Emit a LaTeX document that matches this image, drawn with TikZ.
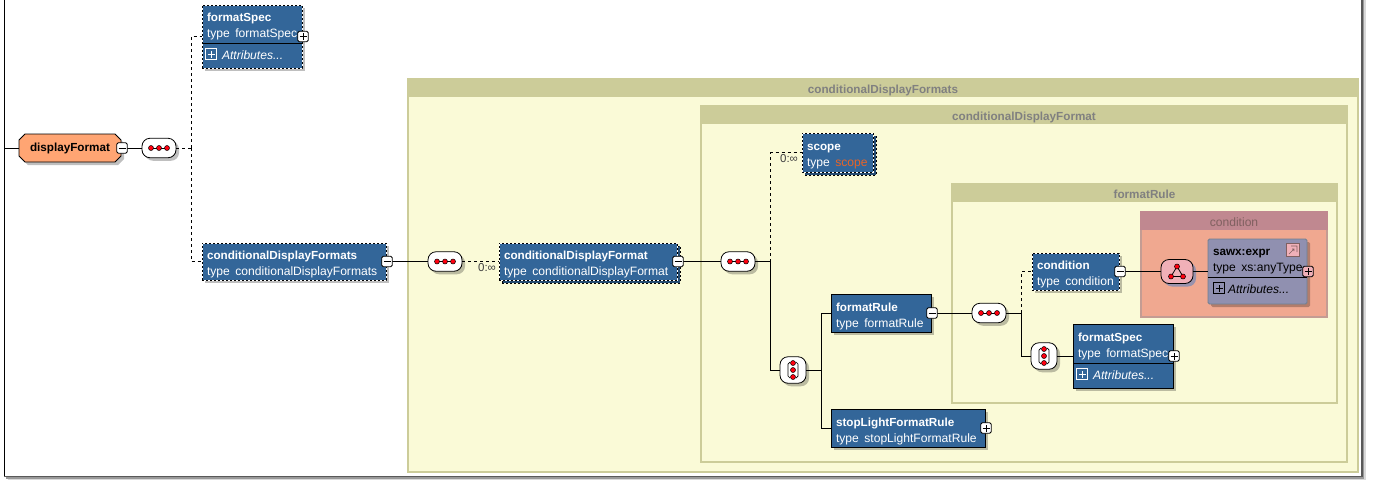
\documentclass[tikz,border=0pt]{standalone}
\usepackage{fontspec}
\setmainfont{Liberation Sans}
\usetikzlibrary{calc,shadows,shapes.misc}
\definecolor{typeblue}{HTML}{336699}
\definecolor{groupline}{HTML}{CCCC99}
\definecolor{groupfill}{HTML}{FAFAD7}
\definecolor{grouptext}{HTML}{808080}
\definecolor{elemorange}{HTML}{FFA573}
\definecolor{condfill}{HTML}{F0A890}
\definecolor{condhead}{HTML}{C08890}
\definecolor{condtext}{HTML}{806060}
\definecolor{anyfill}{HTML}{9090B0}
\definecolor{anyline}{HTML}{708090}
\definecolor{allpink}{HTML}{F0B0B8}
\definecolor{scopetext}{HTML}{E86428}
\definecolor{dotred}{HTML}{FF0010}
\newcommand{\elemname}[1]{{\fontsize{11.7}{16}\selectfont\bfseries #1}}
\newcommand{\elemtall}[1]{\rule{0pt}{15pt}\elemname{#1}}
\newcommand{\typeline}[1]{\mbox{type\hspace{5.5pt}#1}}

\begin{document}
\begin{tikzpicture}[
  x=1pt, y=-1pt,
  font=\fontsize{12.1}{16}\selectfont,
  shade/.style     = {drop shadow={shadow xshift=3pt, shadow yshift=-3pt, fill=black, opacity=0.25}},
  typebox/.style   = {draw=black, line width=0.8pt, fill=typeblue, text=white, outer sep=0pt,
                      inner xsep=5pt, inner ysep=0pt, align=left, shade},
  optbox/.style    = {typebox, draw=white, postaction={draw=black, dash pattern=on 2pt off 2pt}},
  manybox/.style   = {copy shadow={shadow xshift=3pt, shadow yshift=-3pt, fill=typeblue,
                      draw=black, dash pattern=on 2pt off 2pt, opacity=1}, optbox},
  elem/.style      = {chamfered rectangle, chamfered rectangle xsep=3pt, chamfered rectangle ysep=3pt,
                      draw=black, line width=0.8pt, fill=elemorange, minimum width=102pt,
                      minimum height=28pt, inner sep=0pt, outer sep=0pt, shade},
  anybox/.style    = {typebox, draw=anyline, fill=anyfill, text=black, rounded corners=1.5pt},
  grp/.style       = {draw=groupline, line width=2pt, fill=groupfill, outer sep=0pt, inner sep=0pt},
  grphead/.style   = {draw=groupline, line width=2pt, fill=groupline, text=grouptext, outer sep=0pt,
                      inner sep=0pt, minimum height=17pt, text height=12pt, text depth=0pt,
                      font=\fontsize{11.7}{14}\selectfont\bfseries},
  condgrp/.style   = {grp, draw=condhead!70!groupline, fill=condfill},
  condgrphead/.style = {grphead, draw=condhead, fill=condhead, text=condtext,
                      font=\fontsize{12.1}{14}\selectfont},
  icobox/.style    = {draw=black, line width=0.8pt, fill=white, rounded corners=1.5pt, minimum size=10.5pt,
                      inner sep=0pt, outer sep=0pt},
  minusbox/.style  = {icobox, xshift=1pt, path picture={\draw[sharp corners, line width=0.8pt]
                      ([xshift=-3.5pt]path picture bounding box.center) -- ([xshift=3.5pt]path picture bounding box.center);}},
  plusbox/.style   = {icobox, xshift=1pt, path picture={\draw[sharp corners, line width=0.8pt]
                      ([xshift=-3.5pt]path picture bounding box.center) -- ([xshift=3.5pt]path picture bounding box.center)
                      ([yshift=-3.5pt]path picture bounding box.center) -- ([yshift=3.5pt]path picture bounding box.center);}},
  attrplus/.style  = {icobox, draw=white, fill=typeblue, rounded corners=0pt,
                      path picture={\draw[white, sharp corners, line width=0.8pt]
                      ([yshift=-3.5pt]path picture bounding box.center) -- ([yshift=3.5pt]path picture bounding box.center)
                      ([xshift=-3.5pt]path picture bounding box.center) -- ([xshift=3.5pt]path picture bounding box.center);}},
  seqnode/.style   = {draw=black, line width=0.8pt, fill=white, rounded corners=8pt, minimum width=34pt,
                      minimum height=19.5pt, inner sep=0pt, outer sep=0pt, shade,
                      path picture={\begin{scope}[shift={(path picture bounding box.center)}, sharp corners]
                        \draw[line width=0.8pt] (-8,0) -- (8,0);
                        \foreach \dotx in {-8,0,8} \filldraw[fill=dotred, draw=black, line width=0.5pt] (\dotx,0) circle (2.5pt);
                      \end{scope}}},
  choicenode/.style = {draw=black, line width=0.8pt, fill=white, rounded corners=8pt, minimum width=26pt,
                      minimum height=26.5pt, inner sep=0pt, outer sep=0pt, shade,
                      path picture={\begin{scope}[shift={(path picture bounding box.center)}, sharp corners]
                        \draw[line width=0.7pt] (-3,-8) -- (-5,-6) -- (-5,6) -- (-3,8) (3,-8) -- (5,-6) -- (5,6) -- (3,8);
                        \foreach \doty in {-7,0,7} \filldraw[fill=dotred, draw=black, line width=0.5pt] (0,\doty) circle (2.5pt);
                      \end{scope}}},
  allnode/.style   = {draw=black, line width=0.8pt, fill=allpink, rounded corners=8pt, minimum width=32pt,
                      minimum height=24pt, inner sep=0pt, outer sep=0pt,
                      drop shadow={shadow xshift=3pt, shadow yshift=-3pt, fill=anyfill, opacity=0.9},
                      path picture={\begin{scope}[shift={(path picture bounding box.center)}, sharp corners]
                        \draw[line width=0.8pt] (0,-5) -- (-6,5) -- (6,5) -- cycle;
                        \foreach \dotx/\doty in {0/-5,-6/5,6/5} \filldraw[fill=dotred, draw=black, line width=0.5pt] (\dotx,\doty) circle (2.5pt);
                      \end{scope}}},
  refbox/.style    = {draw=condtext, line width=0.8pt, fill=allpink, minimum size=13pt, inner sep=0pt, outer sep=0pt,
                      path picture={\begin{scope}[shift={(path picture bounding box.center)}, sharp corners]
                        \draw[line width=0.6pt] (-2,-4) -- (4,-4) -- (4,2) (-4,4) -- (1,-1) (-1,-1) -- (1,-1) -- (1,1);
                      \end{scope}}},
  ln/.style        = {draw=black, line width=0.8pt},
  lndash/.style    = {ln, dash pattern=on 3pt off 3pt},
  occurs/.style    = {font=\fontsize{11.5}{12}\selectfont, text=black!75, inner sep=0pt},
]
\useasboundingbox (0,0) rectangle (1373,488);

% --- page edge -----------------------------------------------------------------------------------
\fill[white] (0,0) rectangle (1373,488);
\fill[black!15] (1361,0) rectangle (1366,480);
\fill[black!15] (8,476) rectangle (1366,480);
\fill[black!40] (1361,0) rectangle (1364,478.5);
\fill[black!40] (6,476) rectangle (1364,478.5);
\fill[black!65] (1361,0) rectangle (1362.5,477.2);
\fill[black!65] (4,476) rectangle (1362.5,477.2);
\coordinate (edgetop) at (4.5,0);
\coordinate (edgebot) at (4.5,476);
\draw[ln] (edgetop) -- (edgebot);

% --- nested groups -------------------------------------------------------------------------------
\node[grp, anchor=north west, minimum width=950pt, minimum height=393pt] (dfsgroup) at (408,79) {};
\node[grphead, anchor=north west, minimum width=950pt] at (dfsgroup.north west) {conditionalDisplayFormats};
\node[grp, anchor=north west, minimum width=646pt, minimum height=356pt] (dfgroup) at (701,106) {};
\node[grphead, anchor=north west, minimum width=646pt] at (dfgroup.north west) {conditionalDisplayFormat};
\node[grp, anchor=north west, minimum width=385pt, minimum height=219pt] (rulegroup) at (952,184) {};
\node[grphead, anchor=north west, minimum width=385pt] at (rulegroup.north west) {formatRule};
\node[condgrp, anchor=north west, minimum width=186pt, minimum height=105pt] (condgroup) at (1141,212) {};
\node[condgrphead, anchor=north west, minimum width=186pt] at (condgroup.north west) {condition};

% --- root and its sequence -----------------------------------------------------------------------
\node[elem] (display) at (70,148) {\elemname{displayFormat}};
\node[seqnode] (seqa) at (159,148) {};
\node[optbox, anchor=north west, minimum width=100pt, minimum height=63pt, text width=90pt] (specone) at (202,5)
  {\elemname{formatSpec}\\\typeline{formatSpec}\\[6pt]\hspace*{15pt}\textit{Attributes...}};
\draw[ln] ($(specone.west)+(0,6.5)$) -- ($(specone.east)+(0,6.5)$);
\node[optbox, anchor=north west, minimum width=184pt, minimum height=37pt, text width=174pt] (dfs) at (202,243)
  {\elemtall{conditionalDisplayFormats}\\\typeline{conditionalDisplayFormats}};
\coordinate (jcta) at (191,148);
\coordinate (rootin) at (edgetop |- display);
\draw[ln] (rootin) -- (display.west);
\draw[ln] (display.east) -- (seqa.west);
\draw[lndash] (seqa.east) -- (jcta);
\draw[lndash] (jcta) |- (specone.west);
\draw[lndash] (jcta) |- (dfs.west);

% --- repeated format, and its content ------------------------------------------------------------
\node[seqnode] (seqb) at (445,261.5) {};
\node[manybox, anchor=north west, minimum width=178pt, minimum height=37pt, text width=168pt] (df) at (499,243)
  {\elemtall{conditionalDisplayFormat}\\\typeline{conditionalDisplayFormat}};
\node[occurs] (occb) at (487,268) {0:∞};
\node[seqnode] (seqc) at (738,261.5) {};
\node[manybox, anchor=north west, minimum width=71pt, minimum height=39pt, text width=61pt] (scope) at (802,133)
  {\elemtall{scope}\\\typeline{\textcolor{scopetext}{scope}}};
\node[occurs] (occc) at (789,159) {0:∞};
\node[choicenode] (choicea) at (793,370) {};
\node[typebox, anchor=north west, minimum width=100pt, minimum height=38pt, text width=90pt] (rule) at (831,294)
  {\elemtall{formatRule}\\\typeline{formatRule}};
\node[typebox, anchor=north west, minimum width=154pt, minimum height=38pt, text width=144pt] (stop) at (831,409)
  {\elemtall{stopLightFormatRule}\\\typeline{stopLightFormatRule}};
\coordinate (jctc) at (770.5,261.5);
\coordinate (jctd) at (821.5,370);
\draw[ln] (dfs.east) -- (seqb.west);
\draw[lndash] (seqb.east) -- (df.west);
\draw[ln] (df.east) -- (seqc.west);
\draw[ln] (seqc.east) -- (jctc);
\draw[lndash] (jctc) |- (scope.west);
\draw[ln] (jctc) |- (choicea.west);
\draw[ln] (choicea.east) -- (jctd);
\draw[ln] (jctd) |- (rule.west);
\draw[ln] (jctd) |- (stop.west);

% --- inside the rule -----------------------------------------------------------------------------
\node[seqnode] (seqd) at (989,313) {};
\node[optbox, anchor=north west, minimum width=87pt, minimum height=37pt, text width=77pt] (cond) at (1032,253)
  {\elemtall{condition}\\\typeline{condition}};
\node[choicenode] (choiceb) at (1044,356) {};
\node[typebox, anchor=north west, minimum width=100pt, minimum height=64pt, text width=90pt] (spectwo) at (1073,324)
  {\elemname{formatSpec}\\\typeline{formatSpec}\\[6pt]\hspace*{15pt}\textit{Attributes...}};
\draw[ln] ($(spectwo.west)+(0,7)$) -- ($(spectwo.east)+(0,7)$);
\node[allnode] (allc) at (1177,271.5) {};
\node[anybox, anchor=north west, minimum width=99pt, minimum height=65pt, text width=89pt] (expr) at (1208,239)
  {\elemname{sawx:expr}\\\typeline{xs:anyType}\\[6pt]\hspace*{15pt}\textit{Attributes...}};
\draw[ln] ($(expr.west)+(0,5.5)$) -- ($(expr.east)+(0,5.5)$);
\coordinate (jcte) at (1021.5,313);
\draw[ln] (rule.east) -- (seqd.west);
\draw[ln] (seqd.east) -- (jcte);
\draw[lndash] (jcte) |- (cond.west);
\draw[ln] (jcte) |- (choiceb.west);
\draw[ln] (choiceb.east) -- (spectwo.west);
\draw[ln] (cond.east) -- (allc.west);
\draw[ln] (allc.east) -- (expr.west);

% --- expanders, on top ---------------------------------------------------------------------------
\node[minusbox] at (display.east) {};
\node[plusbox] at (specone.east) {};
\node[minusbox] at (dfs.east) {};
\node[minusbox] at (df.east) {};
\node[minusbox] at (rule.east) {};
\node[plusbox] at (stop.east) {};
\node[minusbox] at (cond.east) {};
\node[plusbox] at (spectwo.east) {};
\node[plusbox, fill=allpink] at (expr.east) {};
\node[refbox] at (1293,250) {};
\node[attrplus] at (211,54) {};
\node[attrplus] at (1082,374) {};
\node[attrplus, draw=black, fill=anyfill, path picture={\draw[sharp corners, line width=0.8pt]
  ([yshift=-3.5pt]path picture bounding box.center) -- ([yshift=3.5pt]path picture bounding box.center)
  ([xshift=-3.5pt]path picture bounding box.center) -- ([xshift=3.5pt]path picture bounding box.center);}] at (1219,288) {};

\end{tikzpicture}
\end{document}
